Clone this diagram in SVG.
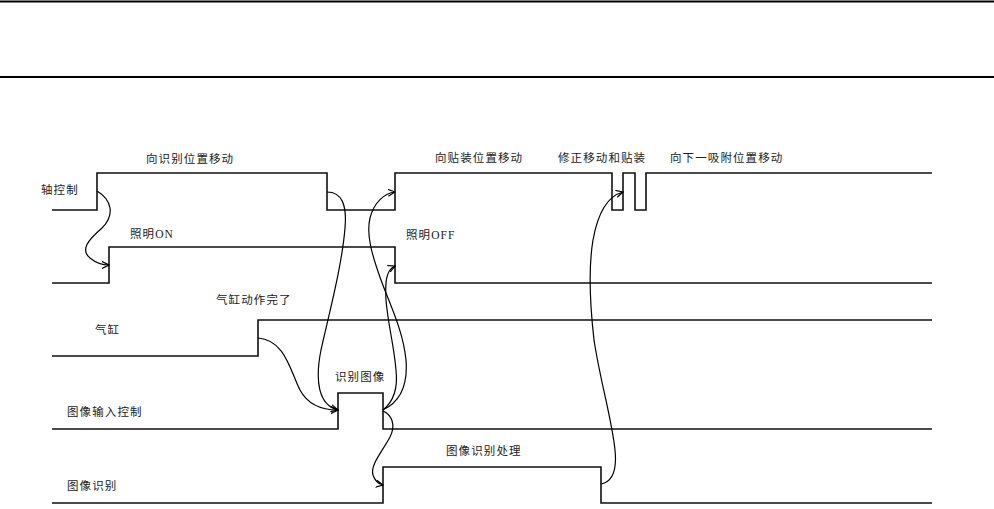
<svg xmlns="http://www.w3.org/2000/svg" width="994" height="509" viewBox="0 0 994 509">
<defs>
<marker id="arr" viewBox="0 0 8 8" refX="7" refY="4" markerWidth="8" markerHeight="8" markerUnits="userSpaceOnUse" orient="auto">
<path d="M0,0.5 L7,4 L0,7.5" fill="none" stroke="#000" stroke-width="1.2"/>
</marker>
</defs>
<style>
.rule{stroke:#000;stroke-width:2.2;fill:none}
.wave{stroke:#111;stroke-width:1.6;fill:none}
.cur{stroke:#000;stroke-width:1.2;fill:none}
.t{font-family:"Liberation Serif","Noto Sans CJK SC",serif;font-size:11.5px;letter-spacing:1.1px;fill:#222}
</style>
<g id="rules">
<line class="rule" x1="0" y1="1.5" x2="994" y2="1.5"/>
<line class="rule" x1="0" y1="77" x2="994" y2="77"/>
</g>
<g id="axis">
<path class="wave" d="M52,210 H97 V173 H327 V210 H395 V173 H612 V210 H623 V173 H635 V210 H646 V173 H932"/>
<text class="t" x="41" y="194">轴控制</text>
<text class="t" x="146" y="163">向识别位置移动</text>
<text class="t" x="435" y="162">向贴装位置移动</text>
<text class="t" x="558" y="162">修正移动和贴装</text>
<text class="t" x="670" y="162">向下一吸附位置移动</text>
</g>
<g id="light">
<path class="wave" d="M52,283 H109 V247 H395 V283 H932"/>
<text class="t" x="130" y="238">照明ON</text>
<text class="t" x="406" y="239">照明OFF</text>
</g>
<g id="cylinder">
<path class="wave" d="M52,356 H258 V320 H932"/>
<text class="t" x="95" y="334">气缸</text>
<text class="t" x="216" y="304">气缸动作完了</text>
</g>
<g id="image-input">
<path class="wave" d="M52,429 H338 V393 H383 V429 H932"/>
<text class="t" x="67" y="416">图像输入控制</text>
<text class="t" x="335" y="381">识别图像</text>
</g>
<g id="image-recog">
<path class="wave" d="M52,503 H383 V467 H601 V503 H932"/>
<text class="t" x="67" y="490">图像识别</text>
<text class="t" x="446" y="455">图像识别处理</text>
</g>
<g id="connectors">
<path class="cur" marker-end="url(#arr)" d="M97,191 C112,200 115,215 102,228 C88,240 80,250 90,258 C96,263 102,265 109,265"/>
<path class="cur" marker-end="url(#arr)" d="M327,192 C342,192 347,205 345,228 C342,265 330,310 321,350 C315,380 318,405 338,410"/>
<path class="cur" marker-end="url(#arr)" d="M258,338 C285,340 290,370 300,390 C308,405 322,410 338,410"/>
<path class="cur" marker-end="url(#arr)" d="M383,410 C400,402 408,385 406,360 C403,330 390,305 381,280 C372,255 366,235 370,218 C374,202 385,193 395,192"/>
<path class="cur" marker-end="url(#arr)" d="M383,410 C393,402 398,388 396,370 C394,345 388,325 386,300 C385,282 386,270 395,266"/>
<path class="cur" marker-end="url(#arr)" d="M383,411 C392,415 396,425 390,437 C382,452 370,465 373,475 C375,481 378,484 383,485"/>
<path class="cur" marker-end="url(#arr)" d="M601,484 C612,482 617,470 615,450 C612,420 600,380 594,340 C590,305 588,270 593,240 C598,212 608,196 623,192"/>
</g>
</svg>
